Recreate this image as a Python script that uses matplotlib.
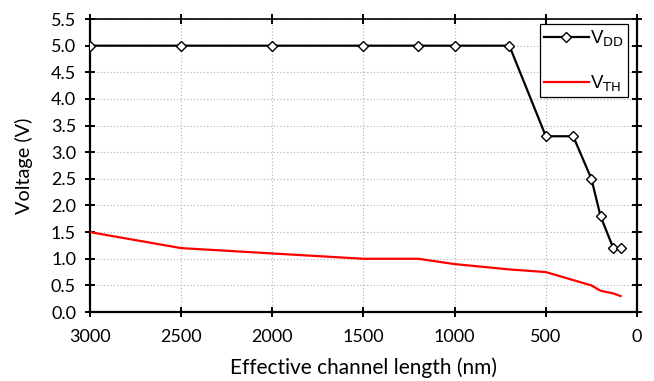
import matplotlib
matplotlib.use("Agg")
import matplotlib.pyplot as plt

# Supply voltage and threshold voltage versus effective channel length
length_vdd = [3000, 2500, 2000, 1500, 1200, 1000, 700, 500, 350, 250, 200, 130, 90]
vdd = [5.0, 5.0, 5.0, 5.0, 5.0, 5.0, 5.0, 3.3, 3.3, 2.5, 1.8, 1.2, 1.2]

length_vth = [3000, 2500, 2000, 1500, 1200, 1000, 700, 500, 250, 200, 130, 90]
vth = [1.5, 1.2, 1.1, 1.0, 1.0, 0.9, 0.8, 0.75, 0.5, 0.4, 0.35, 0.3]

x_ticks = [3000, 2500, 2000, 1500, 1000, 500, 0]
y_ticks = [0.0, 0.5, 1.0, 1.5, 2.0, 2.5, 3.0, 3.5, 4.0, 4.5, 5.0, 5.5]

plt.rcParams["font.family"] = ["Lato", "DejaVu Sans"]
plt.rcParams["mathtext.default"] = "regular"

fig = plt.figure(figsize=(6.54, 3.81), dpi=100)
ax = fig.add_axes([0.1376, 0.181, 0.974 - 0.1376, 0.950 - 0.181])

ax.plot(length_vdd, vdd, color="black", lw=1.6, marker="D", markersize=5.6,
        markerfacecolor="white", markeredgecolor="black", markeredgewidth=1.0,
        label=r"V$_{\mathrm{DD}}$", zorder=3)
ax.plot(length_vth, vth, color="#ff0000", lw=1.6, label=r"V$_{\mathrm{TH}}$", zorder=3)

ax.set_xlim(3000, 0)
ax.set_ylim(0, 5.5)
ax.set_xticks(x_ticks)
ax.set_xticklabels([str(v) for v in x_ticks])
ax.set_yticks(y_ticks)
ax.set_yticklabels([f"{v:.1f}" for v in y_ticks])

ax.grid(True, color="#b0b0b0", linestyle=(0, (1, 2)), linewidth=0.8, zorder=0)
ax.set_axisbelow(True)

for side in ["left", "bottom", "right"]:
    ax.spines[side].set_linewidth(1.6)
ax.spines["top"].set_linewidth(1.2)

ax.tick_params(axis="both", which="major", labelsize=13, width=1.4, length=7,
               direction="inout", top=True, right=True)
ax.tick_params(axis="x", pad=9)
ax.tick_params(axis="y", pad=6.5)

ax.set_xlabel("Effective channel length (nm)", fontsize=15, labelpad=9)
ax.set_ylabel("Voltage (V)", fontsize=14.3, labelpad=13)

leg = ax.legend(loc="upper right", bbox_to_anchor=(0.983, 0.982), frameon=True,
                fancybox=False, edgecolor="black", handlelength=2.4,
                handletextpad=0.05, borderpad=0.2, borderaxespad=0.0,
                labelspacing=1.35, framealpha=1.0,
                prop={"family": "Liberation Sans", "size": 13.5})
leg.get_frame().set_linewidth(0.9)

fig.savefig("out.png", dpi=100)
